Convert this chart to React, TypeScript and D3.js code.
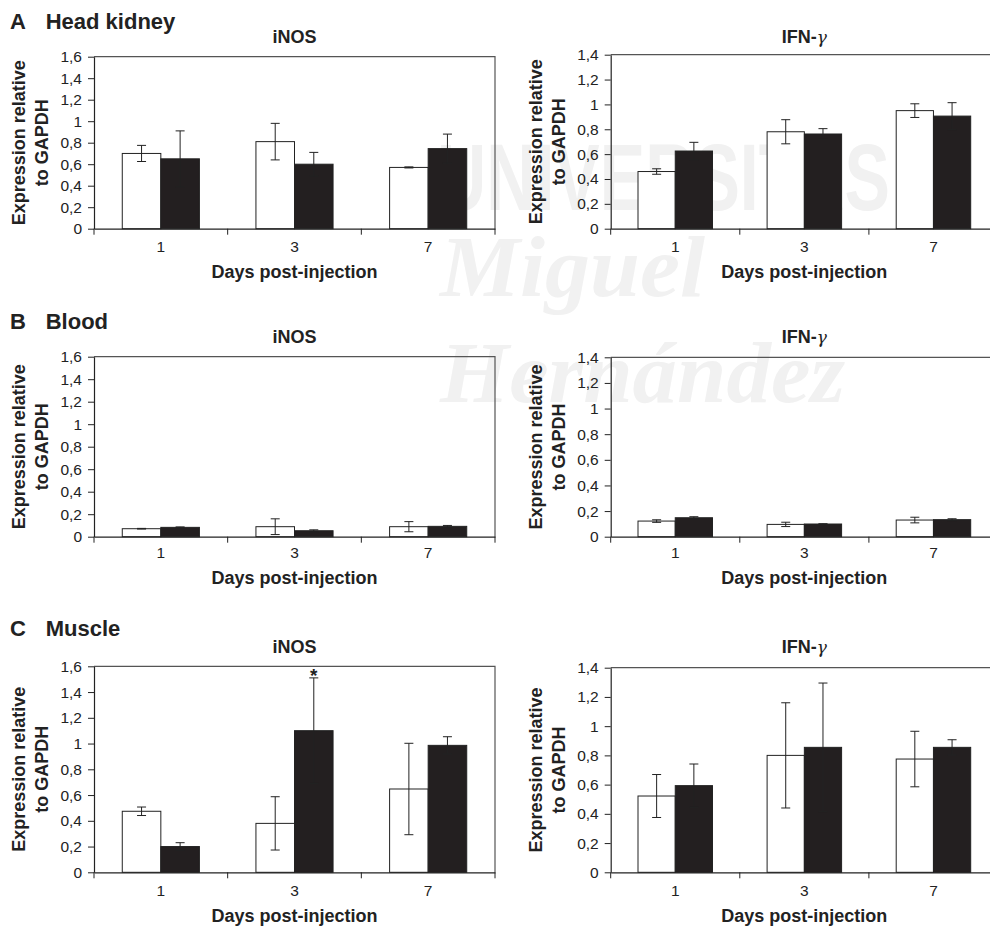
import React, { useEffect, useRef } from "react";
import * as d3 from "d3";

// categories
const days = ["1", "3", "7"];
const groups = ["ctrl", "trt"];

// A - Head kidney
const hkInosCtrl = [0.70, 0.81, 0.57];
const hkInosCtrlErr = [0.075, 0.17, 0.005];
const hkInosTrt = [0.65, 0.60, 0.745];
const hkInosTrtErr = [0.26, 0.11, 0.135];
const hkIfnCtrl = [0.46, 0.78, 0.95];
const hkIfnCtrlErr = [0.022, 0.097, 0.055];
const hkIfnTrt = [0.625, 0.762, 0.906];
const hkIfnTrtErr = [0.07, 0.043, 0.108];

// B - Blood
const blInosCtrl = [0.071, 0.089, 0.089];
const blInosCtrlErr = [0.003, 0.07, 0.045];
const blInosTrt = [0.083, 0.053, 0.092];
const blInosTrtErr = [0.004, 0.008, 0.008];
const blIfnCtrl = [0.122, 0.096, 0.13];
const blIfnCtrlErr = [0.01, 0.017, 0.022];
const blIfnTrt = [0.148, 0.099, 0.133];
const blIfnTrtErr = [0.008, 0.002, 0.007];

// C - Muscle
const muInosCtrl = [0.474, 0.38, 0.647];
const muInosCtrlErr = [0.033, 0.207, 0.355];
const muInosTrt = [0.2, 1.1, 0.986];
const muInosTrtErr = [0.03, 0.41, 0.067];
const muIfnCtrl = [0.522, 0.80, 0.775];
const muIfnCtrlErr = [0.147, 0.36, 0.19];
const muIfnTrt = [0.593, 0.855, 0.855];
const muIfnTrtErr = [0.148, 0.44, 0.052];

const rowLetters = ["A", "B", "C"];
const rowNames = ["Head kidney", "Blood", "Muscle"];
const yMaxes = [1.6, 1.4];

const panels = [
  { row: 0, col: 0, ctrl: hkInosCtrl, ctrlErr: hkInosCtrlErr, trt: hkInosTrt, trtErr: hkInosTrtErr, star: -1 },
  { row: 0, col: 1, ctrl: hkIfnCtrl, ctrlErr: hkIfnCtrlErr, trt: hkIfnTrt, trtErr: hkIfnTrtErr, star: -1 },
  { row: 1, col: 0, ctrl: blInosCtrl, ctrlErr: blInosCtrlErr, trt: blInosTrt, trtErr: blInosTrtErr, star: -1 },
  { row: 1, col: 1, ctrl: blIfnCtrl, ctrlErr: blIfnCtrlErr, trt: blIfnTrt, trtErr: blIfnTrtErr, star: -1 },
  { row: 2, col: 0, ctrl: muInosCtrl, ctrlErr: muInosCtrlErr, trt: muInosTrt, trtErr: muInosTrtErr, star: 1 },
  { row: 2, col: 1, ctrl: muIfnCtrl, ctrlErr: muIfnCtrlErr, trt: muIfnTrt, trtErr: muIfnTrtErr, star: -1 },
];

// layout
const W = 990, H = 926;
const cols = [{ x0: 94, x1: 495 }, { x0: 610.7, x1: 998 }];
const rows = [
  { labelY: 29, titleY: 42.7, top: [56.7, 54.7], zero: 228.7, tickY: 23.5, xTitleY: 278.3 },
  { labelY: 329, titleY: 342.7, top: [356.7, 357.3], zero: 536.7, tickY: 21.8, xTitleY: 584 },
  { labelY: 636, titleY: 653.3, top: [666.3, 667.7], zero: 872.3, tickY: 23.7, xTitleY: 921.5 },
];
const FONT = "'Liberation Sans', Arial, Helvetica, sans-serif";
const INK = "#222";
const DARK = "#231f20";

const fmt = (t: number) => String(+t.toFixed(1)).replace(".", ",");

function App() {
  const ref = useRef<SVGSVGElement>(null);

  useEffect(() => {
    const svg = d3.select(ref.current);
    svg.selectAll("*").remove();

    svg.append("rect").attr("width", W).attr("height", H).attr("fill", "#fff");

    // faint watermark behind the charts
    const wm = svg.append("g").attr("fill", "#f1f1f1");
    wm.append("text").attr("x", 437).attr("y", 210).attr("font-family", FONT).attr("font-weight", "bold")
      .attr("font-size", 94).attr("textLength", 453).attr("lengthAdjust", "spacingAndGlyphs").text("UNIVERSITAS");
    wm.append("text").attr("x", 440).attr("y", 296).attr("font-family", "'Liberation Serif', serif").attr("font-style", "italic")
      .attr("font-weight", "bold").attr("font-size", 86).attr("textLength", 265).attr("lengthAdjust", "spacingAndGlyphs").text("Miguel");
    wm.append("text").attr("x", 440).attr("y", 402).attr("font-family", "'Liberation Serif', serif").attr("font-style", "italic")
      .attr("font-weight", "bold").attr("font-size", 86).attr("textLength", 405).attr("lengthAdjust", "spacingAndGlyphs").text("Hernández");

    // row labels
    rows.forEach((r, i) => {
      svg.append("text").attr("x", 10).attr("y", r.labelY).attr("font-family", FONT).attr("font-weight", "bold")
        .attr("font-size", 22).attr("fill", INK).text(rowLetters[i]);
      svg.append("text").attr("x", 45.7).attr("y", r.labelY).attr("font-family", FONT).attr("font-weight", "bold")
        .attr("font-size", 22).attr("fill", INK).text(rowNames[i]);
    });

    panels.forEach(p => {
      const r = rows[p.row];
      const c = cols[p.col];
      const top = r.top[p.col];
      const zero = r.zero;
      const max = yMaxes[p.col];
      const g = svg.append("g");

      const x = d3.scaleBand().domain(days).range([c.x0, c.x1]);
      const sub = d3.scaleBand().domain(groups).range([0, x.bandwidth()]).paddingInner(0).paddingOuter(0.733);
      const y = d3.scaleLinear().domain([0, max]).range([zero, top]);

      // plot title
      const title = g.append("text").attr("x", (c.x0 + c.x1) / 2).attr("y", r.titleY).attr("text-anchor", "middle")
        .attr("font-family", FONT).attr("font-weight", "bold").attr("font-size", 18).attr("fill", INK);
      if (p.col === 0) {
        title.text("iNOS");
      } else {
        title.append("tspan").text("IFN-");
        title.append("tspan").attr("font-family", "'DejaVu Serif', serif").attr("font-style", "italic")
          .attr("font-weight", "normal").attr("font-size", 17).text("γ");
      }

      // frame (top and right)
      g.append("path").attr("d", `M${c.x0},${top}H${c.x1}V${zero}`).attr("fill", "none")
        .attr("stroke", "#555").attr("stroke-width", 1.2);

      // bars
      const series = [
        { key: "ctrl", vals: p.ctrl, errs: p.ctrlErr, fill: "#fff" },
        { key: "trt", vals: p.trt, errs: p.trtErr, fill: DARK },
      ];
      series.forEach(s => {
        g.selectAll(`.bar-${s.key}`).data(days).join("rect")
          .attr("class", `bar-${s.key}`)
          .attr("x", d => x(d)! + sub(s.key)!)
          .attr("y", (d, i) => y(s.vals[i]))
          .attr("width", sub.bandwidth())
          .attr("height", (d, i) => zero - y(s.vals[i]))
          .attr("fill", s.fill).attr("stroke", INK).attr("stroke-width", 1);
      });

      // error bars
      series.forEach(s => {
        days.forEach((d, i) => {
          const cx = x(d)! + sub(s.key)! + sub.bandwidth() / 2;
          const hi = y(s.vals[i] + s.errs[i]);
          const lo = y(Math.max(0, s.vals[i] - s.errs[i]));
          g.append("path").attr("d", `M${cx},${lo}V${hi}M${cx - 4.5},${hi}H${cx + 4.5}M${cx - 4.5},${lo}H${cx + 4.5}`)
            .attr("fill", "none").attr("stroke", INK).attr("stroke-width", 1);
        });
      });

      // significance mark
      if (p.star >= 0) {
        const i = p.star;
        const cx = x(days[i])! + sub("trt")! + sub.bandwidth() / 2;
        g.append("text").attr("x", cx).attr("y", y(p.trt[i] + p.trtErr[i]) + 4).attr("text-anchor", "middle")
          .attr("font-family", FONT).attr("font-weight", "bold").attr("font-size", 19).attr("fill", INK).text("*");
      }

      // y axis
      const ya = g.append("g").attr("transform", `translate(${c.x0},0)`)
        .call(d3.axisLeft(y).tickValues(d3.range(0, max + 0.001, 0.2)).tickSize(6).tickSizeOuter(0).tickPadding(6)
          .tickFormat(d => fmt(+d)));
      ya.attr("font-family", FONT).attr("font-size", 15.5);
      ya.select(".domain").attr("stroke", INK).attr("stroke-width", 1.2);
      ya.selectAll(".tick line").attr("stroke", INK);
      ya.selectAll(".tick text").attr("fill", INK);

      // x axis
      const xa = g.append("g").attr("transform", `translate(0,${zero})`)
        .call(d3.axisBottom(x).tickSize(0).tickSizeOuter(0).tickPadding(r.tickY - 11));
      xa.attr("font-family", FONT).attr("font-size", 15.5);
      xa.select(".domain").attr("stroke", INK).attr("stroke-width", 1.2);
      xa.selectAll(".tick text").attr("fill", INK);
      xa.selectAll(".bound").data([...days.map(d => x(d)!), c.x1]).join("line")
        .attr("class", "bound").attr("x1", d => d).attr("x2", d => d).attr("y1", 0).attr("y2", 6)
        .attr("stroke", INK);

      // axis titles
      g.append("text").attr("x", (c.x0 + c.x1) / 2).attr("y", r.xTitleY).attr("text-anchor", "middle")
        .attr("font-family", FONT).attr("font-weight", "bold").attr("font-size", 18).attr("fill", INK)
        .text("Days post-injection");
      const cy = (top + zero) / 2;
      [["Expression relative", 69], ["to GAPDH", 46]].forEach(([txt, off]) => {
        g.append("text").attr("transform", `translate(${c.x0 - (off as number)},${cy}) rotate(-90)`)
          .attr("text-anchor", "middle").attr("font-family", FONT).attr("font-weight", "bold")
          .attr("font-size", 18).attr("fill", INK).text(txt as string);
      });
    });
  }, []);

  return (
    <svg ref={ref} width={W} height={H} style={{ position: "absolute", left: 0, top: 0, display: "block" }} />
  );
}

export default App;
